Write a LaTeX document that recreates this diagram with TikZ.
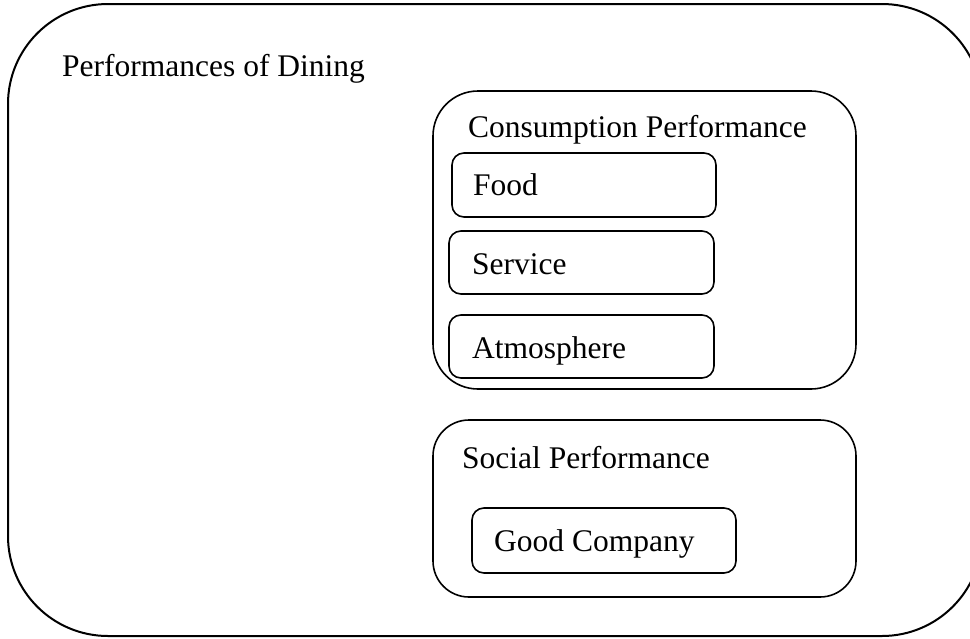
\documentclass[tikz,border=0pt]{standalone}
\usepackage{fontspec}
\setmainfont{Liberation Serif}
\begin{document}
\begin{tikzpicture}[x=1pt,y=-1pt,
  outerbox/.style={draw, line width=2pt, rounded corners=100pt},
  groupbox/.style={draw, line width=1.6pt},
  itembox/.style={draw, line width=1.6pt, rounded corners=12pt},
  lbl/.style={anchor=base west, inner sep=0pt, font=\fontsize{31.5}{36}\selectfont}]
\useasboundingbox (0,0) rectangle (970,638);
\begin{scope}
  \clip (0,0) rectangle (970,638);
  \draw[outerbox] (8,4) rectangle (982,636);
\end{scope}
\node[lbl] (dining) at (62,76) {Performances of Dining};
% consumption
\draw[groupbox, rounded corners=45pt] (433,91) rectangle (856,389);
\node[lbl] (cons) at (468,137) {Consumption Performance};
\draw[itembox] (452,153) rectangle (716,217);
\node[lbl] (food) at (473,195) {Food};
\draw[itembox] (449,231) rectangle (714,294);
\node[lbl] (service) at (472,274) {Service};
\draw[itembox] (449,315) rectangle (714,378);
\node[lbl] (atmo) at (472,358) {Atmosphere};
% social
\draw[groupbox, rounded corners=36pt] (433,420) rectangle (856,597);
\node[lbl] (social) at (462,468) {Social Performance};
\draw[itembox] (472,508) rectangle (736,573);
\node[lbl] (company) at (494,551) {Good Company};
\end{tikzpicture}
\end{document}
